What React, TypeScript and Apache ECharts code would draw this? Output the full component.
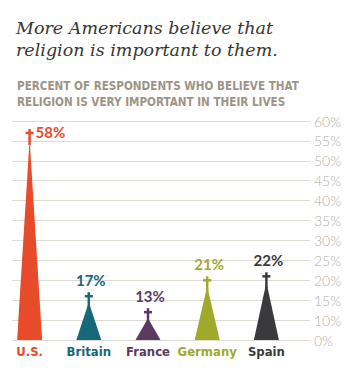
import React, { useEffect, useRef } from "react";
import * as echarts from "echarts";

const countries = ["U.S.", "Britain", "France", "Germany", "Spain"];
const values = [58, 17, 13, 21, 22];
const colors = ["#e84b2a", "#16687a", "#5a3a5f", "#a1a92a", "#3a3a3c"];
const tickValues = [0, 10, 15, 20, 25, 30, 35, 40, 45, 50, 55, 60];

// The reference axis skips 5%: 0 -> 10 takes one step, then 5 per step.
const toAxis = (v: number) => (v <= 10 ? v / 2 : v - 5);
const tickLabel = (a: number) => {
  const idx = Math.round(a / 5);
  return tickValues[idx] + "%";
};

const COND = "'DejaVu Sans Condensed', 'DejaVu Sans', sans-serif";

export default function App() {
  const ref = useRef<HTMLDivElement>(null);
  useEffect(() => {
    if (!ref.current) return;
    const chart = echarts.init(ref.current, null, { renderer: "svg" });
    const rich: any = {};
    colors.forEach((c, i) => {
      rich["c" + i] = {
        color: c,
        fontFamily: COND,
        fontWeight: "bold",
        fontSize: 13,
      };
    });
    chart.setOption({
      animation: false,
      backgroundColor: "#ffffff",
      title: [
        {
          text: "More Americans believe that\nreligion is important to them.",
          left: 11,
          top: 12,
          textStyle: {
            fontFamily: "DejaVu Serif",
            fontStyle: "italic",
            fontWeight: "normal",
            fontSize: 17.5,
            lineHeight: 22,
            color: "#363636",
          },
        },
        {
          text: "PERCENT OF RESPONDENTS WHO BELIEVE THAT\nRELIGION IS VERY IMPORTANT IN THEIR LIVES",
          left: 12,
          top: 73,
          textStyle: {
            fontFamily: COND,
            fontWeight: "bold",
            fontSize: 11.6,
            lineHeight: 16,
            color: "#9c9486",
          },
        },
      ],
      grid: [
        { left: 12, right: 47, top: 121, bottom: 47 },
        { left: 0, width: 296, top: 121, bottom: 47 },
      ],
      xAxis: [
        { type: "value", gridIndex: 0, show: false, min: 0, max: 1 },
        {
          type: "category",
          gridIndex: 1,
          data: countries,
          axisLine: { show: false },
          axisTick: { show: false },
          axisLabel: {
            margin: 5,
            interval: 0,
            formatter: (v: string, i: number) => `{c${i}|${v}}`,
            rich,
          },
        },
      ],
      yAxis: [
        {
          type: "value",
          gridIndex: 0,
          position: "right",
          min: 0,
          max: 55,
          interval: 5,
          axisLine: { show: false },
          axisTick: { show: false },
          splitLine: { lineStyle: { color: "#dedbd2", width: 1 } },
          axisLabel: {
            margin: 4,
            formatter: (v: number) => tickLabel(v),
            color: "#b2aea7",
            fontFamily: "Lato",
            fontWeight: 300,
            fontSize: 14,
          },
        },
        { type: "value", gridIndex: 1, min: 0, max: 55, show: false },
      ],
      series: [
        {
          type: "custom",
          xAxisIndex: 1,
          yAxisIndex: 1,
          data: values.map((v, i) => [i, toAxis(v)]),
          renderItem: (params: any, api: any) => {
            const i = api.value(0);
            const d = api.value(1);
            const top = api.coord([i, d]);
            const base = api.coord([i, 0]);
            const cx = top[0];
            const yt = top[1];
            const yb = base[1];
            const half = 12.5;
            const apex = yt + 10;
            const color = colors[i];
            const first = i === 0;
            return {
              type: "group",
              children: [
                {
                  type: "polygon",
                  shape: { points: [[cx - half, yb], [cx, apex], [cx + half, yb]] },
                  style: { fill: color },
                },
                {
                  type: "line",
                  shape: { x1: cx, y1: yt, x2: cx, y2: apex + 6 },
                  style: { stroke: color, lineWidth: 2.5 },
                },
                {
                  type: "line",
                  shape: { x1: cx - 4, y1: yt + 4, x2: cx + 4, y2: yt + 4 },
                  style: { stroke: color, lineWidth: 2.5 },
                },
                {
                  type: "text",
                  style: {
                    text: values[i] + "%",
                    x: first ? cx + 6 : cx + 2,
                    y: first ? yt + 3 : yt - 12,
                    align: first ? "left" : "center",
                    verticalAlign: "middle",
                    fill: color,
                    fontFamily: "Lato",
                    fontWeight: "bold",
                    fontSize: 15,
                  },
                },
              ],
            };
          },
        },
      ],
    });
    return () => chart.dispose();
  }, []);
  return (
    <div
      ref={ref}
      style={{ position: "absolute", left: 0, top: 0, width: 357, height: 387 }}
    />
  );
}
